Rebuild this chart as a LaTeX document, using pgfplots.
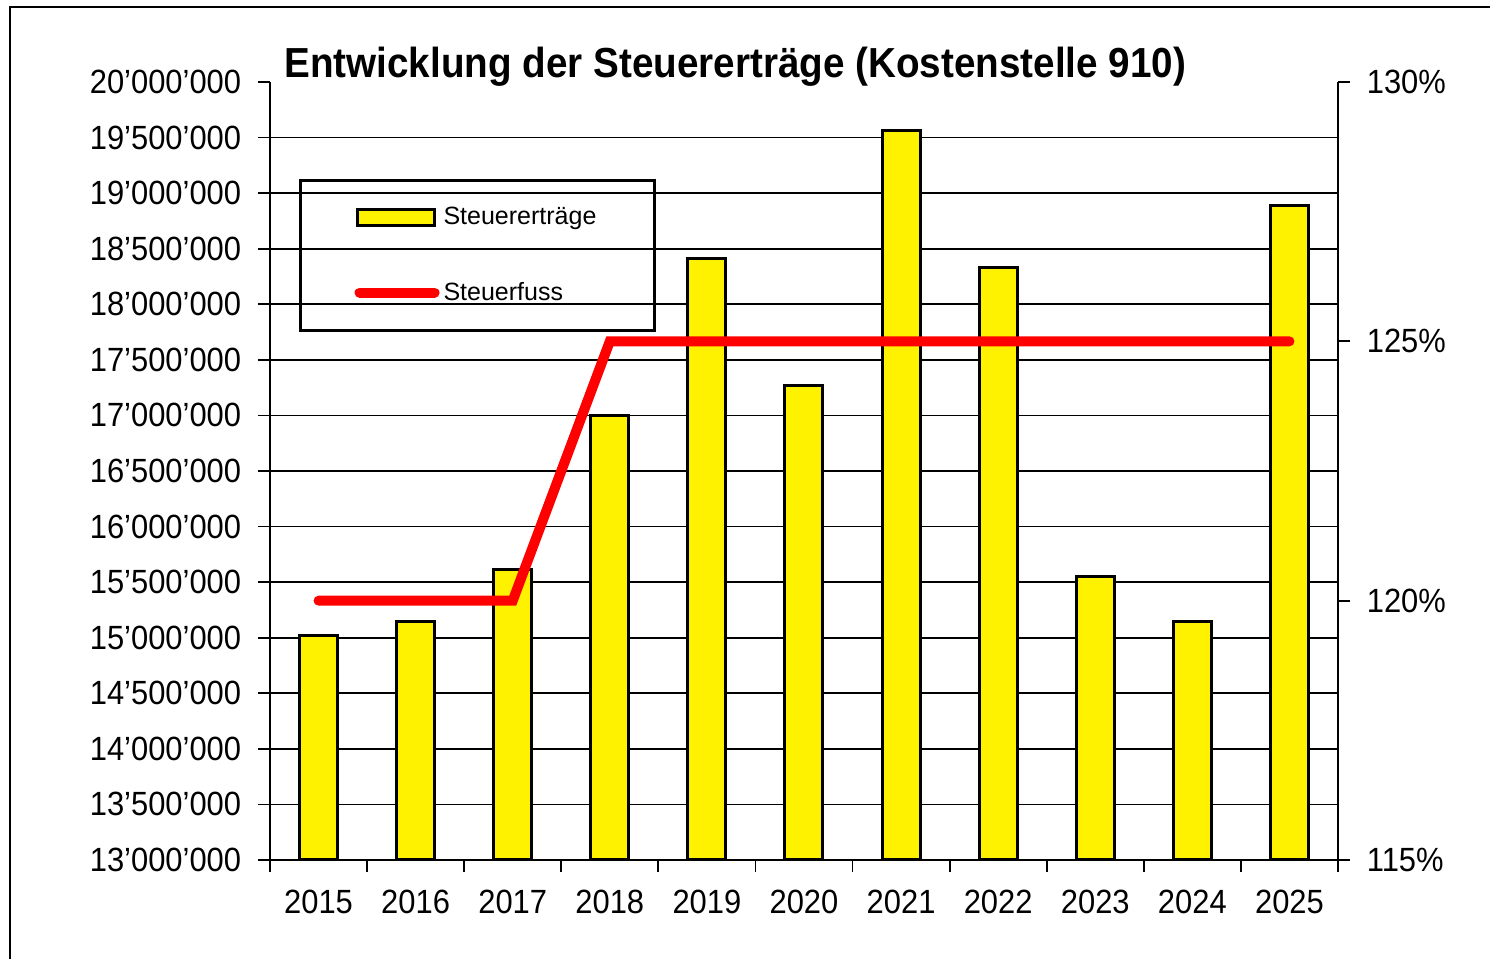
\documentclass[border=0pt]{standalone}
\usepackage{fontspec}
\setmainfont{Liberation Sans}[FakeStretch=0.92]
\newfontfamily\legfont{Liberation Sans}
\usepackage{pgfplots}
\pgfplotsset{compat=1.18}
\newcommand{\tickfont}{\fontsize{16.8}{20}\selectfont}
\begin{document}
\begin{tikzpicture}
\useasboundingbox (-135pt,-49.5pt) rectangle (610pt,430pt);
\draw[line width=1pt] (-130pt,-80pt) rectangle (650pt,426.5pt);
\begin{axis}[
  at={(0pt,0pt)}, anchor=south west,
  width=534pt, height=389pt, scale only axis,
  xmin=-0.5, xmax=10.5, ymin=13000000, ymax=20000000,
  scaled y ticks=false,
  axis x line*=bottom, axis y line*=left,
  axis line style={line width=0.9pt, black},
  tick align=outside, major tick length=6pt, minor tick length=6pt,
  tick style={line width=0.9pt, black},
  xtick={0,1,2,3,4,5,6,7,8,9,10},
  xticklabels={2015,2016,2017,2018,2019,2020,2021,2022,2023,2024,2025},
  major x tick style={draw=none},
  minor xtick={-0.5,0.5,1.5,2.5,3.5,4.5,5.5,6.5,7.5,8.5,9.5,10.5},
  ytick={13000000,13500000,14000000,14500000,15000000,15500000,16000000,16500000,17000000,17500000,18000000,18500000,19000000,19500000},
  yticklabels={13’000’000,13’500’000,14’000’000,14’500’000,15’000’000,15’500’000,16’000’000,16’500’000,17’000’000,17’500’000,18’000’000,18’500’000,19’000’000,19’500’000},
  extra y ticks={20000000},
  extra y tick labels={20’000’000},
  extra y tick style={grid=none},
  ymajorgrids, grid style={line width=0.8pt, black},
  /pgf/number format/assume math mode=true,
  ticklabel style={font=\tickfont},
  yticklabel style={xshift=-4.9pt},
  xticklabel style={yshift=-5.5pt},
  title={Entwicklung der Steuererträge (Kostenstelle 910)},
  title style={at={(0.0131,1.00514)}, anchor=base west, yshift=-6pt, font=\fontsize{21}{24}\selectfont\bfseries, inner sep=0pt},
]
\addplot[ybar, bar width=19pt, fill=yellow, draw=black, line width=1.5pt]
  coordinates {(0,15020000) (1,15150000) (2,15610000) (3,16995000) (4,18415000) (5,17265000) (6,19560000) (7,18330000) (8,15555000) (9,15150000) (10,18885000)};
\end{axis}
\begin{axis}[
  at={(0pt,0pt)}, anchor=south west,
  width=534pt, height=389pt, scale only axis,
  xmin=-0.5, xmax=10.5, ymin=115, ymax=130,
  axis x line=none, axis y line*=right,
  axis line style={line width=0.9pt, black},
  tick align=outside, major tick length=6pt,
  tick style={line width=0.9pt, black},
  ytick={115,120,125,130},
  yticklabels={115\%,120\%,125\%,130\%},
  /pgf/number format/assume math mode=true,
  ticklabel style={font=\tickfont},
  yticklabel style={xshift=4.9pt},
  legend style={at={(0.0272,0.8753)}, anchor=north west, draw=black, line width=1.5pt, fill=none,
    inner xsep=27pt, inner ysep=11.5pt, row sep=23pt, font=\legfont\fontsize{12.5}{15}\selectfont,
    cells={anchor=west}},
]
\addlegendimage{legend image code/.code={\draw[fill=yellow, draw=black, line width=1.5pt] (0pt,-4pt) rectangle (38.5pt,4pt);}}
\addlegendentry{Steuererträge}
\addplot[red, line width=5pt, line cap=round,
  legend image code/.code={\draw[red, line width=5pt, line cap=round] (1pt,0pt) -- (38.5pt,0pt);}]
  coordinates {(0,120) (1,120) (2,120) (3,125) (4,125) (5,125) (6,125) (7,125) (8,125) (9,125) (10,125)};
\addlegendentry{Steuerfuss}
\end{axis}
\end{tikzpicture}
\end{document}
